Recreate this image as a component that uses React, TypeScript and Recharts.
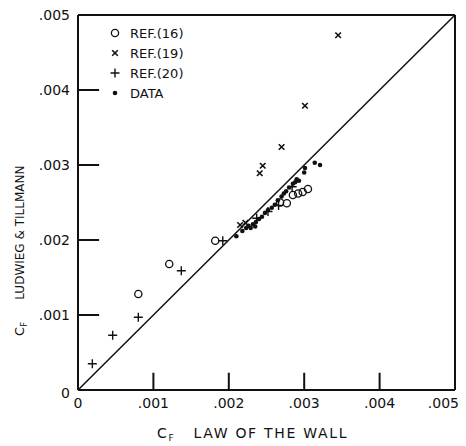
import React from "react";
import {
  Legend,
  ReferenceLine,
  Scatter,
  ScatterChart,
  XAxis,
  YAxis,
} from "recharts";

type Pt = { x: number; y: number };

const xTicks = [0, 0.001, 0.002, 0.003, 0.004, 0.005];
const xTickLabels = ["0", ".001", ".002", ".003", ".004", ".005"];
const yTicks = [0, 0.001, 0.002, 0.003, 0.004, 0.005];
const yTickLabels = ["0", ".001", ".002", ".003", ".004", ".005"];
const innerTicks = [0.001, 0.002, 0.003, 0.004];
const seriesNames = ["REF.(16)", "REF.(19)", "REF.(20)", "DATA"];

// REF.(16) - open circles
const ref16: Pt[] = [
  { x: 0.0008, y: 0.00128 },
  { x: 0.00121, y: 0.00168 },
  { x: 0.00182, y: 0.00199 },
  { x: 0.00268, y: 0.0025 },
  { x: 0.00277, y: 0.00249 },
  { x: 0.00285, y: 0.0026 },
  { x: 0.00292, y: 0.00262 },
  { x: 0.00298, y: 0.00264 },
  { x: 0.00305, y: 0.00268 },
];

// REF.(19) - crosses
const ref19: Pt[] = [
  { x: 0.00215, y: 0.0022 },
  { x: 0.00222, y: 0.00223 },
  { x: 0.00241, y: 0.00289 },
  { x: 0.00245, y: 0.00299 },
  { x: 0.0027, y: 0.00324 },
  { x: 0.00301, y: 0.00379 },
  { x: 0.00345, y: 0.00473 },
];

// REF.(20) - plus
const ref20: Pt[] = [
  { x: 0.00019, y: 0.00035 },
  { x: 0.00046, y: 0.00073 },
  { x: 0.0008, y: 0.00097 },
  { x: 0.00137, y: 0.00159 },
  { x: 0.00192, y: 0.00199 },
  { x: 0.00237, y: 0.00229 },
  { x: 0.00252, y: 0.00238 },
  { x: 0.00266, y: 0.00246 },
  { x: 0.00284, y: 0.00271 },
];

// DATA - filled dots
const dataPts: Pt[] = [
  { x: 0.0021, y: 0.00205 },
  { x: 0.00218, y: 0.00212 },
  { x: 0.00223, y: 0.00216 },
  { x: 0.00226, y: 0.00219 },
  { x: 0.00229, y: 0.00216 },
  { x: 0.00232, y: 0.00221 },
  { x: 0.00235, y: 0.00218 },
  { x: 0.00236, y: 0.00224 },
  { x: 0.0024, y: 0.00228 },
  { x: 0.00244, y: 0.00231 },
  { x: 0.00248, y: 0.00236 },
  { x: 0.00252, y: 0.0024 },
  { x: 0.00257, y: 0.00243 },
  { x: 0.00261, y: 0.00247 },
  { x: 0.00265, y: 0.00253 },
  { x: 0.0027, y: 0.00258 },
  { x: 0.00273, y: 0.00262 },
  { x: 0.00276, y: 0.00265 },
  { x: 0.0028, y: 0.0027 },
  { x: 0.00285, y: 0.00275 },
  { x: 0.00288, y: 0.00277 },
  { x: 0.0029, y: 0.00281 },
  { x: 0.00293, y: 0.00279 },
  { x: 0.003, y: 0.0029 },
  { x: 0.00301, y: 0.00296 },
  { x: 0.00314, y: 0.00303 },
  { x: 0.00321, y: 0.003 },
];

const FONT = "'DejaVu Sans', sans-serif";
const INK = "#111";
// inward tick marks, length in axis units (~17-20px)
const X_TICK_LEN = 0.00023;
const Y_TICK_LEN = 0.00028;

const Circle = (p: any) => (
  <circle cx={p.cx} cy={p.cy} r={3.6} fill="none" stroke={INK} strokeWidth={1.3} />
);
const Cross = (p: any) => (
  <path
    d={`M${p.cx - 2.8},${p.cy - 2.8}L${p.cx + 2.8},${p.cy + 2.8}M${p.cx - 2.8},${p.cy + 2.8}L${p.cx + 2.8},${p.cy - 2.8}`}
    stroke={INK}
    strokeWidth={1.6}
  />
);
const Plus = (p: any) => (
  <path
    d={`M${p.cx - 4.5},${p.cy}L${p.cx + 4.5},${p.cy}M${p.cx},${p.cy - 4.5}L${p.cx},${p.cy + 4.5}`}
    stroke={INK}
    strokeWidth={1.4}
  />
);
const Dot = (p: any) => <circle cx={p.cx} cy={p.cy} r={2.3} fill={INK} />;

const markerFor: Record<string, (p: any) => React.ReactElement> = {
  "REF.(16)": Circle,
  "REF.(19)": Cross,
  "REF.(20)": Plus,
  DATA: Dot,
};

const XTick = (props: any) => {
  const { x, y, index } = props;
  const last = index === xTicks.length - 1;
  return (
    <text
      x={last ? x + 4 : x}
      y={y + 18}
      textAnchor={last ? "end" : "middle"}
      fontSize={14}
      fontFamily={FONT}
      fill={INK}
    >
      {xTickLabels[index]}
    </text>
  );
};

const YTick = (props: any) => {
  const { x, y, index } = props;
  return (
    <text
      x={x - 8}
      y={y + (index === 0 ? 8 : 5)}
      textAnchor="end"
      fontSize={14}
      fontFamily={FONT}
      fill={INK}
    >
      {yTickLabels[index]}
    </text>
  );
};

const LegendBox = (props: any) => {
  const items = [...((props.payload || []) as any[])].sort(
    (a, b) => seriesNames.indexOf(a.value) - seriesNames.indexOf(b.value)
  );
  return (
    <div style={{ fontFamily: FONT, fontSize: 13, color: INK }}>
      {items.map((it) => {
        const M = markerFor[it.value];
        return (
          <div key={it.value} style={{ display: "flex", alignItems: "center", height: 20 }}>
            <svg width={14} height={14} style={{ marginRight: 8 }}>
              {M ? M({ cx: 7, cy: 7 }) : null}
            </svg>
            <span>{it.value}</span>
          </div>
        );
      })}
    </div>
  );
};

const titleStyle: React.CSSProperties = {
  position: "absolute",
  fontFamily: FONT,
  color: INK,
  lineHeight: "16px",
  whiteSpace: "nowrap",
};

export default function App() {
  return (
    <div style={{ position: "absolute", left: 0, top: 0, width: 466, height: 446, background: "#fff" }}>
      <ScatterChart width={466} height={446} margin={{ top: 15, right: 11, bottom: 0, left: 0 }}>
        <XAxis
          type="number"
          dataKey="x"
          domain={[0, 0.005]}
          ticks={xTicks}
          interval={0}
          height={56}
          tickSize={0}
          tickMargin={0}
          tickLine={false}
          axisLine={{ stroke: INK, strokeWidth: 2 }}
          tick={<XTick />}
        />
        <YAxis
          type="number"
          dataKey="y"
          domain={[0, 0.005]}
          ticks={yTicks}
          interval={0}
          width={78}
          tickSize={0}
          tickMargin={0}
          tickLine={false}
          axisLine={{ stroke: INK, strokeWidth: 2 }}
          tick={<YTick />}
        />
        {innerTicks.map((t) => (
          <ReferenceLine
            key={`xt${t}`}
            segment={[
              { x: t, y: 0 },
              { x: t, y: X_TICK_LEN },
            ]}
            stroke={INK}
            strokeWidth={2}
          />
        ))}
        {innerTicks.map((t) => (
          <ReferenceLine
            key={`yt${t}`}
            segment={[
              { x: 0, y: t },
              { x: Y_TICK_LEN, y: t },
            ]}
            stroke={INK}
            strokeWidth={2}
          />
        ))}
        <ReferenceLine
          segment={[
            { x: 0, y: 0 },
            { x: 0.005, y: 0.005 },
          ]}
          stroke={INK}
          strokeWidth={1.5}
        />
        <ReferenceLine
          segment={[
            { x: 0, y: 0.005 },
            { x: 0.005, y: 0.005 },
          ]}
          stroke={INK}
          strokeWidth={2}
        />
        <ReferenceLine
          segment={[
            { x: 0.005, y: 0 },
            { x: 0.005, y: 0.005 },
          ]}
          stroke={INK}
          strokeWidth={2}
        />
        <Legend
          layout="vertical"
          align="center"
          verticalAlign="middle"
          wrapperStyle={{ top: 23, left: 108, width: 120, height: 84 }}
          content={<LegendBox />}
        />
        <Scatter name="REF.(16)" data={ref16} shape={Circle} isAnimationActive={false} />
        <Scatter name="REF.(19)" data={ref19} shape={Cross} isAnimationActive={false} />
        <Scatter name="REF.(20)" data={ref20} shape={Plus} isAnimationActive={false} />
        <Scatter name="DATA" data={dataPts} shape={Dot} isAnimationActive={false} />
      </ScatterChart>

      {/* axis titles */}
      <div style={{ ...titleStyle, left: 157, top: 425, fontSize: 14, letterSpacing: 1.7 }}>
        C<span style={{ fontSize: 9, position: "relative", top: 3 }}>F</span>
        <span style={{ marginLeft: 18 }}>LAW OF THE WALL</span>
      </div>
      <div
        style={{
          ...titleStyle,
          left: -90,
          top: 218,
          width: 220,
          height: 16,
          fontSize: 12,
          transform: "rotate(-90deg)",
          transformOrigin: "50% 50%",
        }}
      >
        <span style={{ fontSize: 13 }}>C</span>
        <span style={{ fontSize: 9, position: "relative", top: 3 }}>F</span>
        <span style={{ marginLeft: 22 }}>LUDWIEG &amp; TILLMANN</span>
      </div>
    </div>
  );
}
